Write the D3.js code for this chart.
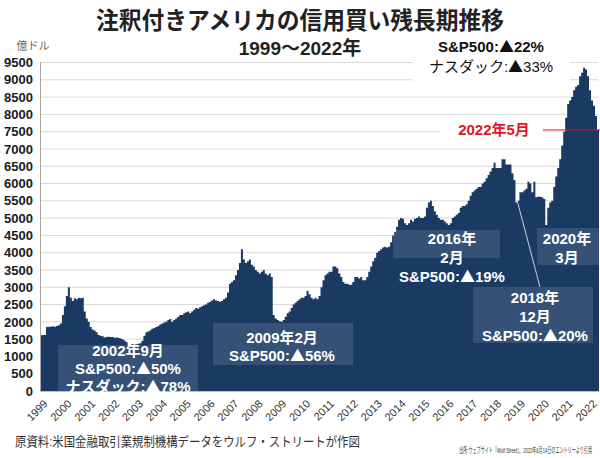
<!DOCTYPE html>
<html><head><meta charset="utf-8">
<script src="https://cdn.jsdelivr.net/npm/d3@7"></script>
<style>
body{margin:0;background:#fff;}
text{font-family:"Liberation Sans","Noto Sans CJK JP",sans-serif;}
</style></head>
<body><svg id="c" width="600" height="458"></svg>
<script>
const years = d3.range(1999, 2023).map(String);
const y1999 = [1610,1620,1620,1850,1860,1860,1870,1860,1880,1900,1950,2200];
const y2000 = [2450,2750,3000,2700,2600,2680,2650,2700,2680,2700,2300,2100];
const y2001 = [2000,1850,1780,1750,1700,1620,1600,1580,1550,1560,1570,1560];
const y2002 = [1560,1540,1550,1530,1520,1500,1460,1420,1330,1340,1350,1340];
const y2003 = [1350,1370,1380,1450,1600,1700,1720,1760,1800,1820,1850,1880];
const y2004 = [1920,1950,1980,2000,2050,2080,2000,2050,2100,2150,2200,2200];
const y2005 = [2250,2280,2300,2250,2300,2350,2400,2380,2420,2450,2480,2500];
const y2006 = [2550,2580,2620,2650,2620,2600,2580,2600,2650,2700,2850,3100];
const y2007 = [3150,3200,3350,3500,3700,4100,3800,3700,3750,3800,3650,3600];
const y2008 = [3500,3450,3400,3450,3500,3400,3350,3400,3300,2200,2100,2050];
const y2009 = [2020,2000,2050,2150,2250,2300,2400,2500,2550,2600,2650,2700];
const y2010 = [2700,2750,2900,2800,2700,2650,2700,2650,2750,3000,3200,3350];
const y2011 = [3400,3450,3450,3600,3600,3550,3400,3300,3150,3100,3100,3070];
const y2012 = [3070,3150,3300,3300,3250,3300,3200,3200,3300,3450,3600,3750];
const y2013 = [3850,4000,4050,4100,4150,4170,4150,4170,4300,4500,4600,4750];
const y2014 = [4950,5000,4980,4850,4800,4850,4950,4900,4980,5000,5050,5000];
const y2015 = [5000,5050,5300,5450,5500,5350,5200,5100,5000,4950,4950,4900];
const y2016 = [4850,4800,4850,5000,5050,5100,5150,5300,5350,5350,5400,5500];
const y2017 = [5650,5750,5800,5850,5900,5900,6000,6050,6150,6250,6350,6450];
const y2018 = [6600,6450,6450,6450,6700,6700,6550,6550,6550,6300,6100,5450];
const y2019 = [5500,5750,5750,5800,5850,6050,6000,5750,6050,5600,5620,5620];
const y2020 = [5600,5550,4800,5300,5450,5500,5900,6200,6450,6700,7100,7500];
const y2021 = [7900,8300,8400,8500,8700,8800,8850,9100,9200,9350,9300,9100];
const y2022 = [8700,8400,8250,7950,7550];
const yTicks = d3.range(0, 9501, 500);

const values = [].concat(y1999,y2000,y2001,y2002,y2003,y2004,y2005,y2006,y2007,y2008,y2009,y2010,
  y2011,y2012,y2013,y2014,y2015,y2016,y2017,y2018,y2019,y2020,y2021,y2022);
const n = values.length;

const svg = d3.select("#c");
const x = d3.scaleLinear().domain([0, n]).range([40, 599]);
const y = d3.scaleLinear().domain([0, 9500]).range([391, 62.5]);

svg.append("g").selectAll("line").data(yTicks.filter(d=>d>0)).join("line")
  .attr("x1", 40).attr("x2", 598).attr("y1", d=>y(d)).attr("y2", d=>y(d))
  .attr("stroke", "#d9d9d9").attr("stroke-width", 1);

svg.append("g").selectAll("text").data(yTicks).join("text")
  .attr("x", 33).attr("y", d=>y(d)).attr("dy", "0.36em").attr("text-anchor", "end")
  .attr("font-size", 13).attr("font-weight", "bold").attr("fill", "#1a1a1a").text(d=>d);

svg.append("text").attr("x", 33).attr("y", 50).attr("text-anchor", "middle")
  .attr("font-size", 11).attr("fill", "#666").text("億ドル");

const pts = values.map((v,i)=>[i,v]); pts.push([n, values[n-1]]);
const area = d3.area().x(d=>x(d[0])).y0(y(0)).y1(d=>y(d[1])).curve(d3.curveStepAfter);
svg.append("path").datum(pts).attr("d", area).attr("fill", "#1a3a63");

svg.append("line").attr("x1", 40.5).attr("x2", 40.5).attr("y1", 62).attr("y2", 391).attr("stroke", "#a6a6a6");
svg.append("line").attr("x1", 40).attr("x2", 599).attr("y1", 391.5).attr("y2", 391.5).attr("stroke", "#bfbfbf");

svg.append("g").selectAll("text").data(years).join("text")
  .attr("transform", (d,i)=>`translate(${x(i*12)+3},${399}) rotate(-45)`)
  .attr("text-anchor", "end").attr("dy", "0.7em").attr("font-size", 11).attr("fill", "#333").text(d=>d);

function addText(sel, t){
  const parts = t.split("▲");
  parts.forEach((p,i)=>{
    if(i>0) sel.append("tspan").style("font-family", '"Noto Sans CJK JP"').text("▲");
    sel.append("tspan").text(p);
  });
}

const boxes = [
  {x:58,y:345,w:140,h:46, lines:["2002年9月","S&P500:▲50%","ナスダック:▲78%"], cx:128, ys:[356,374,392]},
  {x:213,y:323,w:140,h:42, lines:["2009年2月","S&P500:▲56%"], cx:282, ys:[343,361]},
  {x:393,y:230,w:107,h:28, lines:["2016年","2月","S&P500:▲19%"], cx:452, ys:[244,263,282]},
  {x:473,y:287,w:120,h:56, lines:["2018年","12月","S&P500:▲20%"], cx:535, ys:[303,322,341]},
  {x:537,y:228,w:63,h:37, lines:["2020年","3月"], cx:567, ys:[244,263]}
];
boxes.forEach(b=>{
  svg.append("rect").attr("x", b.x).attr("y", b.y).attr("width", b.w).attr("height", b.h)
    .attr("fill", "rgba(255,255,255,0.12)");
});
svg.append("line").attr("x1", 517).attr("y1", 200).attr("x2", 540).attr("y2", 287)
  .attr("stroke", "#c9d2de").attr("stroke-width", 1);
boxes.forEach(b=>{
  b.lines.forEach((t,k)=>{
    const s = svg.append("text").attr("x", b.cx).attr("y", b.ys[k]).attr("text-anchor", "middle")
      .attr("font-size", 15).attr("font-weight", "bold").attr("fill", "#fff");
    addText(s, t);
  });
});

svg.append("rect").attr("x", 413).attr("y", 36).attr("width", 157).attr("height", 46).attr("fill", "#fff");
addText(svg.append("text").attr("x", 491).attr("y", 52).attr("text-anchor", "middle").attr("font-size", 15)
  .attr("font-weight", "bold").attr("fill", "#111"), "S&P500:▲22%");
addText(svg.append("text").attr("x", 491).attr("y", 72).attr("text-anchor", "middle").attr("font-size", 15)
  .attr("fill", "#111"), "ナスダック:▲33%");

svg.append("rect").attr("x", 440).attr("y", 120).attr("width", 103).attr("height", 20).attr("fill", "#fff");
svg.append("text").attr("x", 494).attr("y", 135).attr("text-anchor", "middle").attr("font-size", 15)
  .attr("font-weight", "bold").attr("fill", "#e3151d").text("2022年5月");
svg.append("line").attr("x1", 543).attr("x2", 600).attr("y1", y(values[n-1])).attr("y2", y(values[n-1]))
  .attr("stroke", "#e3151d").attr("stroke-width", 1);

svg.append("text").attr("x", 300).attr("y", 29).attr("text-anchor", "middle").attr("font-size", 24)
  .attr("font-weight", "bold").attr("fill", "#222").attr("textLength", 408).attr("lengthAdjust", "spacingAndGlyphs")
  .text("注釈付きアメリカの信用買い残長期推移");
svg.append("text").attr("x", 300).attr("y", 55).attr("text-anchor", "middle").attr("font-size", 19)
  .attr("font-weight", "bold").attr("fill", "#222").text("1999～2022年");

// footers: horizontally condensed with a scale transform
function condensed(txt, xEnd, yBase, size, width, anchor){
  const t = svg.append("text").attr("font-size", size).attr("fill", "#333")
    .attr("text-anchor", anchor).text(txt);
  const len = t.node().getComputedTextLength();
  const sx = width / len;
  t.attr("transform", `translate(${xEnd},${yBase}) scale(${sx},1)`);
}
condensed("原資料:米国金融取引業規制機構データをウルフ・ストリートが作図", 15, 446, 13, 345, "start");
condensed("出所:ウェブサイト『Wolf Street』、2022年6月14日のエントリーより引用", 592, 453, 8, 133, "end");
</script></body></html>
